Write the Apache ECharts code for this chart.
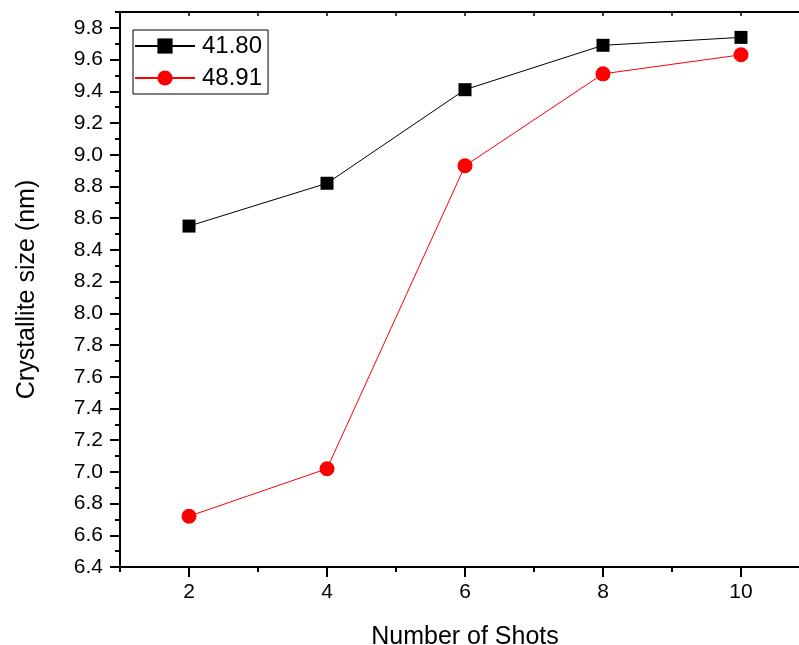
<!DOCTYPE html>
<html>
<head>
<meta charset="utf-8">
<script src="https://cdn.jsdelivr.net/npm/echarts@6/dist/echarts.min.js"></script>
<style>html,body{margin:0;padding:0;background:#fff;}#c{width:799px;height:645px;}</style>
</head>
<body>
<div id="c"></div>
<script>
const shots = [2, 4, 6, 8, 10];
const s1Name = '41.80';
const s1Values = [8.55, 8.82, 9.41, 9.69, 9.74];
const s2Name = '48.91';
const s2Values = [6.72, 7.02, 8.93, 9.51, 9.63];
const xMajorTicks = [2, 4, 6, 8, 10];
const xMinorTicks = [1, 3, 5, 7, 9, 11];
const yMajorTicks = [6.4, 6.6, 6.8, 7.0, 7.2, 7.4, 7.6, 7.8, 8.0, 8.2, 8.4, 8.6, 8.8, 9.0, 9.2, 9.4, 9.6, 9.8];
const yMinorTicks = [6.5, 6.7, 6.9, 7.1, 7.3, 7.5, 7.7, 7.9, 8.1, 8.3, 8.5, 8.7, 8.9, 9.1, 9.3, 9.5, 9.7, 9.9];
const xTopTicks = [1, 2, 3, 4, 5, 6, 7, 8, 9, 10, 11];

const FONT = 'Liberation Sans, Arial, sans-serif';
const chart = echarts.init(document.getElementById('c'), null, {renderer: 'canvas'});
const axisLine = {show: true, lineStyle: {color: '#000', width: 2}};
const baseX = {type: 'value', min: 1, max: 11, splitLine: {show: false}};
const baseY = {type: 'value', min: 6.4, max: 9.9, splitLine: {show: false}};

chart.setOption({
  backgroundColor: '#fff',
  animation: false,
  grid: {left: 120, top: 12, width: 690, height: 555, containLabel: false, outerBoundsMode: 'none'},
  legend: {
    left: 133, top: 30, orient: 'vertical',
    borderColor: '#000', borderWidth: 1,
    padding: [4, 6, 4, 1], itemGap: 8,
    itemWidth: 60, itemHeight: 19,
    textStyle: {fontFamily: FONT, fontSize: 24, color: '#000', padding: [0, 0, 0, 2]},
    data: [s1Name, s2Name]
  },
  xAxis: [
    Object.assign({}, baseX, {
      position: 'bottom', name: 'Number of Shots', nameLocation: 'middle', nameGap: 58,
      nameTextStyle: {fontFamily: FONT, fontSize: 25, color: '#000'},
      axisLine: axisLine,
      axisTick: {show: true, inside: false, length: 10, lineStyle: {color: '#000', width: 2}, customValues: xMajorTicks},
      axisLabel: {show: true, margin: 15, fontFamily: FONT, fontSize: 21, color: '#000', customValues: xMajorTicks}
    }),
    Object.assign({}, baseX, {
      position: 'bottom',
      axisLine: axisLine,
      axisTick: {show: true, inside: false, length: 5, lineStyle: {color: '#000', width: 2}, customValues: xMinorTicks},
      axisLabel: {show: false}
    }),
    Object.assign({}, baseX, {
      position: 'top',
      axisLine: axisLine,
      axisTick: {show: true, inside: true, length: 4, lineStyle: {color: '#000', width: 1.5}, customValues: xTopTicks},
      axisLabel: {show: false}
    })
  ],
  yAxis: [
    Object.assign({}, baseY, {
      position: 'left', name: 'Crystallite size (nm)', nameLocation: 'middle', nameGap: 80,
      nameTextStyle: {fontFamily: FONT, fontSize: 25, color: '#000'},
      axisLine: axisLine,
      axisTick: {show: true, inside: false, length: 10, lineStyle: {color: '#000', width: 2}, customValues: yMajorTicks},
      axisLabel: {show: true, margin: 17, fontFamily: FONT, fontSize: 21, color: '#000', customValues: yMajorTicks,
        formatter: v => Number(v).toFixed(1)}
    }),
    Object.assign({}, baseY, {
      position: 'left',
      axisLine: axisLine,
      axisTick: {show: true, inside: false, length: 5, lineStyle: {color: '#000', width: 2}, customValues: yMinorTicks},
      axisLabel: {show: false}
    })
  ],
  series: [
    {
      name: s1Name, type: 'line', xAxisIndex: 0, yAxisIndex: 0,
      data: shots.map((x, i) => [x, s1Values[i]]),
      symbol: 'rect', symbolSize: 13,
      lineStyle: {color: '#000', width: 1}, itemStyle: {color: '#000'}
    },
    {
      name: s2Name, type: 'line', xAxisIndex: 0, yAxisIndex: 0,
      data: shots.map((x, i) => [x, s2Values[i]]),
      symbol: 'circle', symbolSize: 15,
      lineStyle: {color: '#ff0000', width: 1}, itemStyle: {color: '#ff0000'}
    }
  ]
});
</script>
</body>
</html>
